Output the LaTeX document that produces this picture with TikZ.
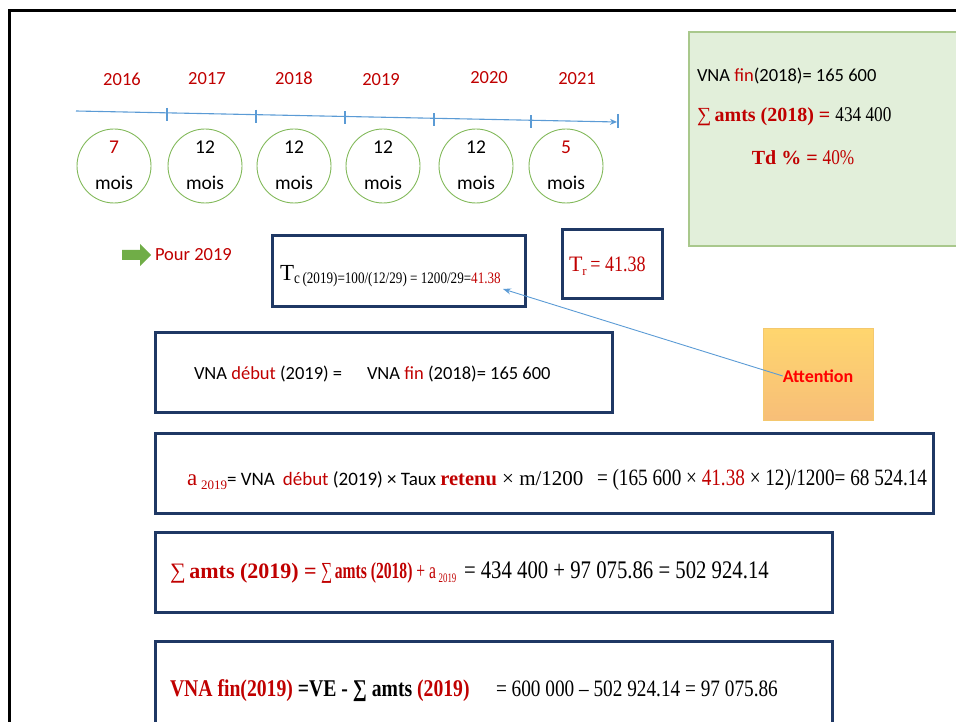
\documentclass[tikz,border=0pt]{standalone}
\usepackage{fontspec}
\setmainfont{Carlito}
\newfontfamily\tnr{Liberation Serif}
\newfontfamily\tnrc[FakeStretch=0.82]{Liberation Serif}
\usetikzlibrary{arrows.meta,calc}
\definecolor{myred}{RGB}{192,0,0}
\definecolor{brightred}{RGB}{255,0,0}
\definecolor{navy}{RGB}{31,56,100}
\definecolor{lblue}{RGB}{91,155,213}
\definecolor{cgreen}{RGB}{130,185,90}
\definecolor{agreen}{RGB}{112,173,71}
\definecolor{boxgreen}{RGB}{226,239,218}
\definecolor{boxgreenb}{RGB}{169,200,140}
\definecolor{otop}{RGB}{255,214,110}
\definecolor{obot}{RGB}{247,190,120}
\definecolor{oborder}{RGB}{244,200,110}
\tikzset{
  navybox/.style={draw=navy, line width=3pt},
  monthcircle/.style={circle, draw=cgreen, line width=0.9pt, minimum size=74pt, inner sep=0pt},
  yearlbl/.style={text=myred, font=\fontsize{18.5}{20}\selectfont},
  sans/.style={font=\fontsize{18.5}{20}\selectfont},
  tl/.style={draw=lblue, line width=1.1pt},
}
\begin{document}
\begin{tikzpicture}[x=1pt,y=-1pt, every node/.style={inner sep=0pt, outer sep=0pt}]
\useasboundingbox (0,0) rectangle (956,722);
% outer frame
\draw[line width=3pt] (9,730) -- (9,11) -- (960,11);
% green info box
\node[draw=boxgreenb, fill=boxgreen, line width=1.2pt, minimum width=280pt, minimum height=214pt, anchor=north west] (info) at (689,32) {};
\node[anchor=west, sans] (g1) at (697,76) {VNA \textcolor{myred}{fin}(2018)= 165 600};
\node[anchor=west] (g2) at (697,117) {\tnr\fontsize{20}{22}\selectfont\textcolor{myred}{∑\,\bfseries amts (2018) =} {\tnrc\fontsize{21}{22}\selectfont 434 400}};
\node (g3) at (803,158) {\tnr\fontsize{20}{22}\selectfont\color{myred}\textbf{Td \% =} {\tnrc\fontsize{21}{22}\selectfont 40\%}};
% years
\foreach \x/\y/\t in {122/79/2016, 207/79/2017, 294/78/2018, 381/80/2019, 489/78/2020, 577/79/2021}
  \node[yearlbl] (y\t) at (\x,\y) {\t};
% timeline
\coordinate (ts) at (76,111);
\coordinate (te) at (617,122);
\draw[tl, -{Stealth[length=7pt,width=6pt]}] (ts) -- (te);
\foreach \x in {167,256,345,434,531}
  \draw[tl] ($(ts)!{(\x-76)/541}!(te)+(0,-5)$) -- ++(0,13);
\draw[tl] (618,114) -- (618,128);
% month circles
\foreach \x/\n/\c in {114/7/myred, 205/12/black, 294/12/black, 383/12/black, 476/12/black, 566/5/myred}{
  \node[monthcircle] (c\x) at (\x,166) {};
  \node[font=\fontsize{19.5}{20}\selectfont, text=\c] at (\x,147) {\n};
  \node[font=\fontsize{19.5}{20}\selectfont] at (\x,183) {mois};
}
% Pour 2019
\fill[agreen] (122,250) -- (140,250) -- (140,244) -- (151,255) -- (140,266) -- (140,260) -- (122,260) -- cycle;
\node[anchor=west, yearlbl] (pour) at (155,255) {Pour 2019};
% Tc box
\draw[navybox] (272,236) rectangle (525,306);
\node[anchor=base west] (tc) at (280,280) {{\tnr\fontsize{23}{22}\selectfont T}{\tnrc\fontsize{16}{14}\selectfont\raisebox{-3pt}{c\,(2019)=100/(12/29) = 1200/29=\textcolor{myred}{41.38}}}};
\coordinate (tcend) at (503,289);
% Tr box
\draw[navybox] (562,230) rectangle (662,298);
\node[anchor=base west] (tr) at (569,272) {\tnr\fontsize{22}{22}\selectfont\color{myred}T\raisebox{-4pt}{\fontsize{13}{13}\selectfont r}\,{\tnrc\fontsize{22}{22}\selectfont= 41.38}};
% Attention
\draw[draw=oborder, top color=otop, bottom color=obot, line width=0.8pt] (763,328) rectangle (873,420);
\node[text=brightred, font=\bfseries\fontsize{18}{20}\selectfont] (att) at (818,376) {Attention};
\draw[lblue, line width=0.9pt, -{Stealth[length=8pt,width=6pt]}] (att.west) -- (tcend);
% VNA debut box
\draw[navybox] (155,332) rectangle (612,412);
\node[anchor=west, sans] (vd1) at (194,374) {VNA \textcolor{myred}{début} (2019) =};
\node[anchor=west, sans] (vd2) at (367,374) {VNA \textcolor{myred}{fin} (2018)= 165 600};
% a2019 box
\draw[navybox] (155,433) rectangle (933,513);
\node[anchor=base west] (a1) at (187,485) {{\tnr\fontsize{23}{22}\selectfont\color{myred}a\,\raisebox{-4pt}{\fontsize{13}{12}\selectfont 2019}}{\fontsize{19}{20}\selectfont = VNA\hspace{8pt}\textcolor{myred}{début} (2019) × Taux }{\tnr\bfseries\fontsize{20.5}{20}\selectfont\color{myred}retenu}{\tnr\fontsize{21}{20}\selectfont\ × m/1200}};
\node[anchor=base west] (a2) at (597,485) {\tnrc\fontsize{23.4}{22}\selectfont = (165 600 × \textcolor{myred}{41.38} × 12)/1200= 68 524.14};
% sum box
\draw[navybox] (155,532) rectangle (832,612);
\node[anchor=base west] (s1) at (170,578) {\tnr\fontsize{22}{22}\selectfont\color{myred}∑\,\textbf{amts (2019) =}};
\node[anchor=base west] (s2) at (321,578) {\scalebox{0.68}[1]{\tnr\fontsize{23}{22}\selectfont\color{myred}∑\,\textbf{amts (2018)} + a\,\raisebox{-4pt}{\fontsize{13}{12}\selectfont 2019}}};
\node[anchor=base west] (s3) at (464,578) {\tnrc\fontsize{25.3}{23}\selectfont = 434 400 + 97 075.86 = 502 924.14};
% VNA fin box
\draw[navybox] (155,641) rectangle (832,730);
\node[anchor=base west] (f1) at (170,696) {\tnrc\bfseries\fontsize{24}{22}\selectfont\textcolor{myred}{VNA fin(2019)} =VE - ∑ amts \textcolor{myred}{(2019)}};
\node[anchor=base west] (f2) at (496,696) {\tnrc\fontsize{23.5}{23}\selectfont = 600 000 – 502 924.14 = 97 075.86};
\end{tikzpicture}
\end{document}
